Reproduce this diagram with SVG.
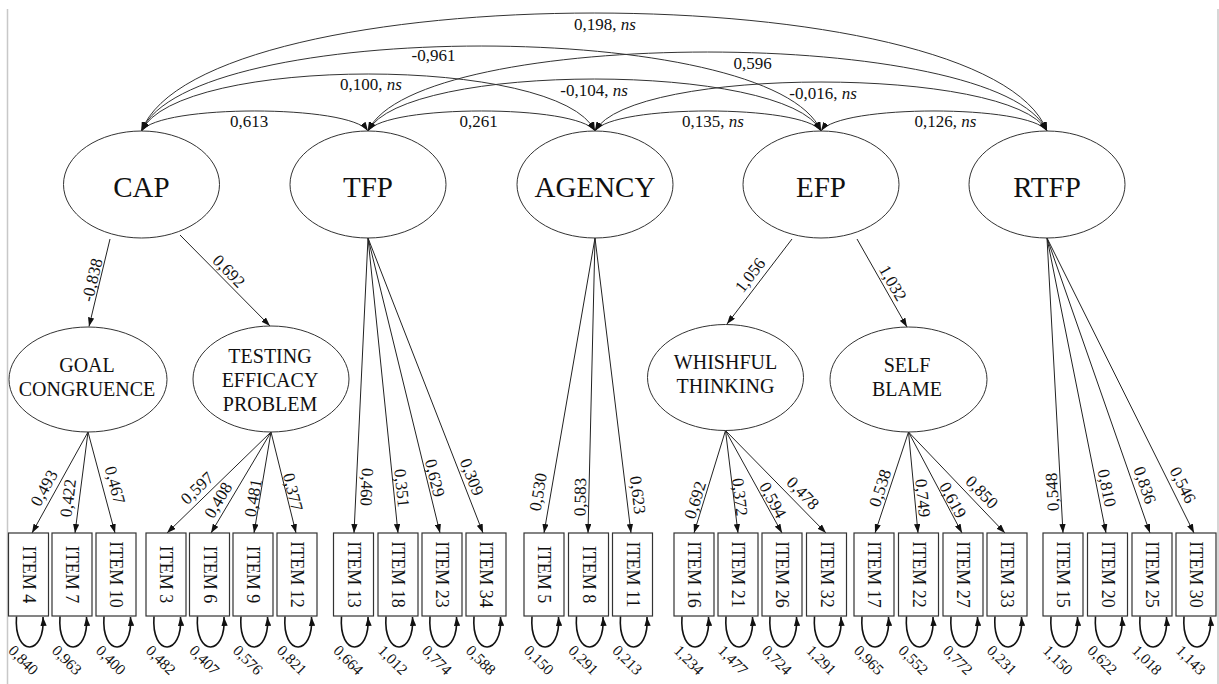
<svg xmlns="http://www.w3.org/2000/svg" width="1219" height="684" viewBox="0 0 1219 684">
<style>
text{fill:#111;font-family:"Liberation Serif","Times New Roman",serif}
.lat{fill:#fff;stroke:#333;stroke-width:1}
.box{fill:#fff;stroke:#333;stroke-width:1.2}
.big{font-size:29px}
.mid{font-size:20px}
.it{font-size:18px}
.ld{font-size:17px}
.er{font-size:15.5px}
.c{fill:none;stroke:#222;stroke-width:1;marker-end:url(#ah)}
.arc{fill:none;stroke:#333;stroke-width:1;marker-start:url(#ah);marker-end:url(#ah)}
.loop{fill:none;stroke:#111;stroke-width:1.6;marker-end:url(#ah)}
.frame{stroke:#c8c8c8;stroke-width:1.5}
</style>
<defs>
<marker id="ah" viewBox="0 0 10 7" refX="10" refY="3.5" markerWidth="9" markerHeight="6.3" markerUnits="userSpaceOnUse" orient="auto-start-reverse"><path d="M0,0 L10,3.5 L0,7 z" fill="#111"/></marker>
</defs>
<rect width="1219" height="684" fill="#fff"/>
<line class="frame" x1="7.5" y1="9" x2="7.5" y2="684"/>
<line class="frame" x1="1218" y1="9" x2="1218" y2="684"/>

<g id="connectors">
<path class="arc" d="M141.5 131 C159.5 104.3 350 104.3 368 131"/>
<path class="arc" d="M368 131 C386 104.3 577 104.3 595 131"/>
<path class="arc" d="M595 131 C613 104.3 803 104.3 821 131"/>
<path class="arc" d="M821 131 C839 104.3 1029 104.3 1047 131"/>
<path class="arc" d="M141.5 131 C176.5 55 560 55 595 131"/>
<path class="arc" d="M368 131 C403 61.7 786 61.7 821 131"/>
<path class="arc" d="M595 131 C630 65.7 1012 65.7 1047 131"/>
<path class="arc" d="M141.5 131 C189.5 17.7 773 17.7 821 131"/>
<path class="arc" d="M368 131 C416 25.7 999 25.7 1047 131"/>
<path class="arc" d="M141.5 131 C201.5 -26.3 987 -26.3 1047 131"/>
<text class="ld" x="249" y="127" text-anchor="middle">0,613</text>
<text class="ld" x="478.5" y="127" text-anchor="middle">0,261</text>
<text class="ld" x="713" y="127" text-anchor="middle">0,135, <tspan font-style="italic">ns</tspan></text>
<text class="ld" x="945.5" y="127" text-anchor="middle">0,126, <tspan font-style="italic">ns</tspan></text>
<text class="ld" x="371" y="90" text-anchor="middle">0,100, <tspan font-style="italic">ns</tspan></text>
<text class="ld" x="594" y="95.5" text-anchor="middle">-0,104, <tspan font-style="italic">ns</tspan></text>
<text class="ld" x="823" y="98.5" text-anchor="middle">-0,016, <tspan font-style="italic">ns</tspan></text>
<text class="ld" x="433.5" y="60.5" text-anchor="middle">-0,961</text>
<text class="ld" x="752.5" y="68.5" text-anchor="middle">0,596</text>
<text class="ld" x="605" y="29.5" text-anchor="middle">0,198, <tspan font-style="italic">ns</tspan></text>

<path class="c" d="M110 239 L89 326.5"/>
<path class="c" d="M180 235 L270 326"/>
<path class="c" d="M792 239 L727 324"/>
<path class="c" d="M857 239 L907 327"/>
<text class="ld" transform="translate(92 280) rotate(-76.4)" y="5.8" text-anchor="middle">-0,838</text>
<text class="ld" transform="translate(229 271) rotate(45.3)" y="5.8" text-anchor="middle">0,692</text>
<text class="ld" transform="translate(750 275) rotate(-52.3)" y="5.8" text-anchor="middle">1,056</text>
<text class="ld" transform="translate(893 283) rotate(60)" y="5.8" text-anchor="middle">1,032</text>

<path class="c" d="M88 432 L32 533"/>
<path class="c" d="M88 432 L75 533"/>
<path class="c" d="M88 432 L115 533"/>
<path class="c" d="M271 432 L167 533"/>
<path class="c" d="M271 432 L211 533"/>
<path class="c" d="M271 432 L254 533"/>
<path class="c" d="M271 432 L296 533"/>
<path class="c" d="M368 238 L354 533"/>
<path class="c" d="M368 238 L398 533"/>
<path class="c" d="M368 238 L440 533"/>
<path class="c" d="M368 238 L483 533"/>
<path class="c" d="M595 238 L544 533"/>
<path class="c" d="M595 238 L588 533"/>
<path class="c" d="M595 238 L631 533"/>
<path class="c" d="M725.5 430.5 L694 533"/>
<path class="c" d="M725.5 430.5 L738 533"/>
<path class="c" d="M725.5 430.5 L782 533"/>
<path class="c" d="M725.5 430.5 L826 533"/>
<path class="c" d="M908.5 432 L875 533"/>
<path class="c" d="M908.5 432 L918 533"/>
<path class="c" d="M908.5 432 L962 533"/>
<path class="c" d="M908.5 432 L1005 533"/>
<path class="c" d="M1047 238 L1063 533"/>
<path class="c" d="M1047 238 L1106 533"/>
<path class="c" d="M1047 238 L1150 533"/>
<path class="c" d="M1047 238 L1194 533"/>

<text class="ld" transform="translate(44 488) rotate(-61)" y="5.8" text-anchor="middle">0,493</text>
<text class="ld" transform="translate(68 498) rotate(-82.7)" y="5.8" text-anchor="middle">0,422</text>
<text class="ld" transform="translate(115 485) rotate(75)" y="5.8" text-anchor="middle">0,467</text>
<text class="ld" transform="translate(197 488) rotate(-44)" y="5.8" text-anchor="middle">0,597</text>
<text class="ld" transform="translate(218 500) rotate(-59)" y="5.8" text-anchor="middle">0,408</text>
<text class="ld" transform="translate(253 498) rotate(-80)" y="5.8" text-anchor="middle">0,481</text>
<text class="ld" transform="translate(293 492) rotate(76)" y="5.8" text-anchor="middle">0,377</text>
<text class="ld" transform="translate(367 487) rotate(92.5)" y="5.8" text-anchor="middle">0,460</text>
<text class="ld" transform="translate(402 488) rotate(84)" y="5.8" text-anchor="middle">0,351</text>
<text class="ld" transform="translate(435 478) rotate(76)" y="5.8" text-anchor="middle">0,629</text>
<text class="ld" transform="translate(472 477) rotate(68.5)" y="5.8" text-anchor="middle">0,309</text>
<text class="ld" transform="translate(538 492) rotate(-80.4)" y="5.8" text-anchor="middle">0,530</text>
<text class="ld" transform="translate(580 497) rotate(-88.8)" y="5.8" text-anchor="middle">0,583</text>
<text class="ld" transform="translate(638 495) rotate(82.9)" y="5.8" text-anchor="middle">0,623</text>
<text class="ld" transform="translate(695 500) rotate(-72.7)" y="5.8" text-anchor="middle">0,692</text>
<text class="ld" transform="translate(740 497) rotate(83.4)" y="5.8" text-anchor="middle">0,372</text>
<text class="ld" transform="translate(773 500) rotate(61.5)" y="5.8" text-anchor="middle">0,594</text>
<text class="ld" transform="translate(803 493) rotate(45.8)" y="5.8" text-anchor="middle">0,478</text>
<text class="ld" transform="translate(880 488) rotate(-71.7)" y="5.8" text-anchor="middle">0,538</text>
<text class="ld" transform="translate(923 498) rotate(84.3)" y="5.8" text-anchor="middle">0,749</text>
<text class="ld" transform="translate(953 500) rotate(61.6)" y="5.8" text-anchor="middle">0,619</text>
<text class="ld" transform="translate(982 492) rotate(45.9)" y="5.8" text-anchor="middle">0,850</text>
<text class="ld" transform="translate(1052 492) rotate(-93.3)" y="5.8" text-anchor="middle">0,548</text>
<text class="ld" transform="translate(1107 488) rotate(78.5)" y="5.8" text-anchor="middle">0,810</text>
<text class="ld" transform="translate(1145 485) rotate(70.6)" y="5.8" text-anchor="middle">0,836</text>
<text class="ld" transform="translate(1183 485) rotate(63.4)" y="5.8" text-anchor="middle">0,546</text>

<path class="loop" d="M16.5 616.5 C13.5 657 45.5 657 43 617"/>
<path class="loop" d="M60 616.5 C57 657 89 657 86.5 617"/>
<path class="loop" d="M104 616.5 C101 657 133 657 130.5 617"/>
<path class="loop" d="M154 616.5 C151 657 183 657 180.5 617"/>
<path class="loop" d="M197.5 616.5 C194.5 657 226.5 657 224 617"/>
<path class="loop" d="M241 616.5 C238 657 270 657 267.5 617"/>
<path class="loop" d="M285 616.5 C282 657 314 657 311.5 617"/>
<path class="loop" d="M341.5 616.5 C338.5 657 370.5 657 368 617"/>
<path class="loop" d="M386 616.5 C383 657 415 657 412.5 617"/>
<path class="loop" d="M430 616.5 C427 657 459 657 456.5 617"/>
<path class="loop" d="M474 616.5 C471 657 503 657 500.5 617"/>
<path class="loop" d="M532 616.5 C529 657 561 657 558.5 617"/>
<path class="loop" d="M576.5 616.5 C573.5 657 605.5 657 603 617"/>
<path class="loop" d="M620.5 616.5 C617.5 657 649.5 657 647 617"/>
<path class="loop" d="M682 616.5 C679 657 711 657 708.5 617"/>
<path class="loop" d="M726 616.5 C723 657 755 657 752.5 617"/>
<path class="loop" d="M770 616.5 C767 657 799 657 796.5 617"/>
<path class="loop" d="M814.5 616.5 C811.5 657 843.5 657 841 617"/>
<path class="loop" d="M862 616.5 C859 657 891 657 888.5 617"/>
<path class="loop" d="M906.5 616.5 C903.5 657 935.5 657 933 617"/>
<path class="loop" d="M951 616.5 C948 657 980 657 977.5 617"/>
<path class="loop" d="M995 616.5 C992 657 1024 657 1021.5 617"/>
<path class="loop" d="M1051 616.5 C1048 657 1080 657 1077.5 617"/>
<path class="loop" d="M1095.5 616.5 C1092.5 657 1124.5 657 1122 617"/>
<path class="loop" d="M1140 616.5 C1137 657 1169 657 1166.5 617"/>
<path class="loop" d="M1184 616.5 C1181 657 1213 657 1210.5 617"/>

<text class="er" transform="translate(23.5 660) rotate(45)" y="5.3" text-anchor="middle">0,840</text>
<text class="er" transform="translate(67 660) rotate(45)" y="5.3" text-anchor="middle">0,963</text>
<text class="er" transform="translate(111 660) rotate(45)" y="5.3" text-anchor="middle">0,400</text>
<text class="er" transform="translate(161 660) rotate(45)" y="5.3" text-anchor="middle">0,482</text>
<text class="er" transform="translate(204.5 660) rotate(45)" y="5.3" text-anchor="middle">0,407</text>
<text class="er" transform="translate(248 660) rotate(45)" y="5.3" text-anchor="middle">0,576</text>
<text class="er" transform="translate(292 660) rotate(45)" y="5.3" text-anchor="middle">0,821</text>
<text class="er" transform="translate(348.5 660) rotate(45)" y="5.3" text-anchor="middle">0,664</text>
<text class="er" transform="translate(393 660) rotate(45)" y="5.3" text-anchor="middle">1,012</text>
<text class="er" transform="translate(437 660) rotate(45)" y="5.3" text-anchor="middle">0,774</text>
<text class="er" transform="translate(481 660) rotate(45)" y="5.3" text-anchor="middle">0,588</text>
<text class="er" transform="translate(539 660) rotate(45)" y="5.3" text-anchor="middle">0,150</text>
<text class="er" transform="translate(583.5 660) rotate(45)" y="5.3" text-anchor="middle">0,291</text>
<text class="er" transform="translate(627.5 660) rotate(45)" y="5.3" text-anchor="middle">0,213</text>
<text class="er" transform="translate(689 660) rotate(45)" y="5.3" text-anchor="middle">1,234</text>
<text class="er" transform="translate(733 660) rotate(45)" y="5.3" text-anchor="middle">1,477</text>
<text class="er" transform="translate(777 660) rotate(45)" y="5.3" text-anchor="middle">0,724</text>
<text class="er" transform="translate(821.5 660) rotate(45)" y="5.3" text-anchor="middle">1,291</text>
<text class="er" transform="translate(869 660) rotate(45)" y="5.3" text-anchor="middle">0,965</text>
<text class="er" transform="translate(913.5 660) rotate(45)" y="5.3" text-anchor="middle">0,552</text>
<text class="er" transform="translate(958 660) rotate(45)" y="5.3" text-anchor="middle">0,772</text>
<text class="er" transform="translate(1002 660) rotate(45)" y="5.3" text-anchor="middle">0,231</text>
<text class="er" transform="translate(1058 660) rotate(45)" y="5.3" text-anchor="middle">1,150</text>
<text class="er" transform="translate(1102.5 660) rotate(45)" y="5.3" text-anchor="middle">0,622</text>
<text class="er" transform="translate(1147 660) rotate(45)" y="5.3" text-anchor="middle">1,018</text>
<text class="er" transform="translate(1191 660) rotate(45)" y="5.3" text-anchor="middle">1,143</text>
</g>

<g id="CAP"><ellipse class="lat" cx="141.5" cy="184.5" rx="78" ry="53.5"/><text class="big" x="141.5" y="197" text-anchor="middle">CAP</text></g>
<g id="TFP"><ellipse class="lat" cx="368" cy="184.5" rx="78" ry="53.5"/><text class="big" x="368" y="197" text-anchor="middle">TFP</text></g>
<g id="AGENCY"><ellipse class="lat" cx="595" cy="184.5" rx="78" ry="53.5"/><text class="big" x="595" y="197" text-anchor="middle">AGENCY</text></g>
<g id="EFP"><ellipse class="lat" cx="821" cy="184.5" rx="78" ry="53.5"/><text class="big" x="821" y="197" text-anchor="middle">EFP</text></g>
<g id="RTFP"><ellipse class="lat" cx="1047" cy="184.5" rx="78" ry="53.5"/><text class="big" x="1047" y="197" text-anchor="middle">RTFP</text></g>

<g id="GOAL_CONGRUENCE"><ellipse class="lat" cx="88" cy="379.5" rx="79" ry="52.5"/><text class="mid" x="87" y="371.7" text-anchor="middle">GOAL</text><text class="mid" x="87" y="395.7" text-anchor="middle">CONGRUENCE</text></g>
<g id="TESTING_EFFICACY_PROBLEM"><ellipse class="lat" cx="271" cy="379" rx="78" ry="53"/><text class="mid" x="270" y="362.7" text-anchor="middle">TESTING</text><text class="mid" x="270" y="386.7" text-anchor="middle">EFFICACY</text><text class="mid" x="270" y="410.7" text-anchor="middle">PROBLEM</text></g>
<g id="WHISHFUL_THINKING"><ellipse class="lat" cx="725.5" cy="377.5" rx="78" ry="53"/><text class="mid" x="725.5" y="369" text-anchor="middle">WHISHFUL</text><text class="mid" x="725.5" y="392.7" text-anchor="middle">THINKING</text></g>
<g id="SELF_BLAME"><ellipse class="lat" cx="908.5" cy="379.5" rx="78.5" ry="52.5"/><text class="mid" x="907" y="371.7" text-anchor="middle">SELF</text><text class="mid" x="907" y="396" text-anchor="middle">BLAME</text></g>

<g id="ITEM4"><rect class="box" x="8.5" y="533" width="40" height="83"/><text class="it" transform="translate(28.5 574.5) rotate(90)" y="6" text-anchor="middle">ITEM 4</text></g>
<g id="ITEM7"><rect class="box" x="52" y="533" width="40" height="83"/><text class="it" transform="translate(72 574.5) rotate(90)" y="6" text-anchor="middle">ITEM 7</text></g>
<g id="ITEM10"><rect class="box" x="96" y="533" width="40" height="83"/><text class="it" transform="translate(116 574.5) rotate(90)" y="6" text-anchor="middle">ITEM 10</text></g>
<g id="ITEM3"><rect class="box" x="146" y="533" width="40" height="83"/><text class="it" transform="translate(166 574.5) rotate(90)" y="6" text-anchor="middle">ITEM 3</text></g>
<g id="ITEM6"><rect class="box" x="189.5" y="533" width="40" height="83"/><text class="it" transform="translate(209.5 574.5) rotate(90)" y="6" text-anchor="middle">ITEM 6</text></g>
<g id="ITEM9"><rect class="box" x="233" y="533" width="40" height="83"/><text class="it" transform="translate(253 574.5) rotate(90)" y="6" text-anchor="middle">ITEM 9</text></g>
<g id="ITEM12"><rect class="box" x="277" y="533" width="40" height="83"/><text class="it" transform="translate(297 574.5) rotate(90)" y="6" text-anchor="middle">ITEM 12</text></g>
<g id="ITEM13"><rect class="box" x="333.5" y="533" width="40" height="83"/><text class="it" transform="translate(353.5 574.5) rotate(90)" y="6" text-anchor="middle">ITEM 13</text></g>
<g id="ITEM18"><rect class="box" x="378" y="533" width="40" height="83"/><text class="it" transform="translate(398 574.5) rotate(90)" y="6" text-anchor="middle">ITEM 18</text></g>
<g id="ITEM23"><rect class="box" x="422" y="533" width="40" height="83"/><text class="it" transform="translate(442 574.5) rotate(90)" y="6" text-anchor="middle">ITEM 23</text></g>
<g id="ITEM34"><rect class="box" x="466" y="533" width="40" height="83"/><text class="it" transform="translate(486 574.5) rotate(90)" y="6" text-anchor="middle">ITEM 34</text></g>
<g id="ITEM5"><rect class="box" x="524" y="533" width="40" height="83"/><text class="it" transform="translate(544 574.5) rotate(90)" y="6" text-anchor="middle">ITEM 5</text></g>
<g id="ITEM8"><rect class="box" x="568.5" y="533" width="40" height="83"/><text class="it" transform="translate(588.5 574.5) rotate(90)" y="6" text-anchor="middle">ITEM 8</text></g>
<g id="ITEM11"><rect class="box" x="612.5" y="533" width="40" height="83"/><text class="it" transform="translate(632.5 574.5) rotate(90)" y="6" text-anchor="middle">ITEM 11</text></g>
<g id="ITEM16"><rect class="box" x="674" y="533" width="40" height="83"/><text class="it" transform="translate(694 574.5) rotate(90)" y="6" text-anchor="middle">ITEM 16</text></g>
<g id="ITEM21"><rect class="box" x="718" y="533" width="40" height="83"/><text class="it" transform="translate(738 574.5) rotate(90)" y="6" text-anchor="middle">ITEM 21</text></g>
<g id="ITEM26"><rect class="box" x="762" y="533" width="40" height="83"/><text class="it" transform="translate(782 574.5) rotate(90)" y="6" text-anchor="middle">ITEM 26</text></g>
<g id="ITEM32"><rect class="box" x="806.5" y="533" width="40" height="83"/><text class="it" transform="translate(826.5 574.5) rotate(90)" y="6" text-anchor="middle">ITEM 32</text></g>
<g id="ITEM17"><rect class="box" x="854" y="533" width="40" height="83"/><text class="it" transform="translate(874 574.5) rotate(90)" y="6" text-anchor="middle">ITEM 17</text></g>
<g id="ITEM22"><rect class="box" x="898.5" y="533" width="40" height="83"/><text class="it" transform="translate(918.5 574.5) rotate(90)" y="6" text-anchor="middle">ITEM 22</text></g>
<g id="ITEM27"><rect class="box" x="943" y="533" width="40" height="83"/><text class="it" transform="translate(963 574.5) rotate(90)" y="6" text-anchor="middle">ITEM 27</text></g>
<g id="ITEM33"><rect class="box" x="987" y="533" width="40" height="83"/><text class="it" transform="translate(1007 574.5) rotate(90)" y="6" text-anchor="middle">ITEM 33</text></g>
<g id="ITEM15"><rect class="box" x="1043" y="533" width="40" height="83"/><text class="it" transform="translate(1063 574.5) rotate(90)" y="6" text-anchor="middle">ITEM 15</text></g>
<g id="ITEM20"><rect class="box" x="1087.5" y="533" width="40" height="83"/><text class="it" transform="translate(1107.5 574.5) rotate(90)" y="6" text-anchor="middle">ITEM 20</text></g>
<g id="ITEM25"><rect class="box" x="1132" y="533" width="40" height="83"/><text class="it" transform="translate(1152 574.5) rotate(90)" y="6" text-anchor="middle">ITEM 25</text></g>
<g id="ITEM30"><rect class="box" x="1176" y="533" width="40" height="83"/><text class="it" transform="translate(1196 574.5) rotate(90)" y="6" text-anchor="middle">ITEM 30</text></g>
</svg>
